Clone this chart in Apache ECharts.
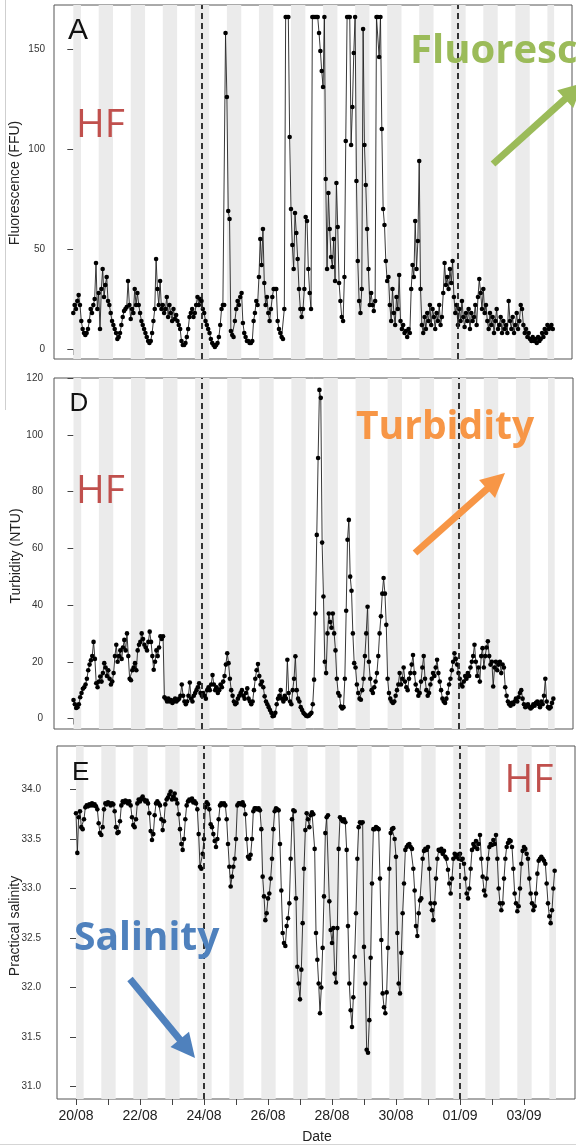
<!DOCTYPE html>
<html><head><meta charset="utf-8">
<script src="https://cdn.jsdelivr.net/npm/echarts@6/dist/echarts.min.js"></script>
<style>html,body{margin:0;padding:0;background:#fff}#c{width:576px;height:1146px}</style>
</head><body><div id="c"></div><script>
// Hourly samples starting 20/08 00:00
const stepHours = 1;
const fluorescence = [
18,22,20,24,27,22,14,10,8,7,8,10,14,20,18,22,25,43,20,28,10,30,40,26,
32,36,24,22,18,14,12,10,8,5,6,8,12,16,19,20,21,34,22,15,20,18,30,22,
28,22,18,14,12,10,8,6,4,3,4,8,14,20,45,30,22,34,20,22,18,20,26,16,
22,18,14,20,15,17,14,12,10,4,2,2,3,6,10,16,18,20,16,18,22,26,22,25,
24,20,18,14,12,10,8,5,3,2,1,2,3,6,12,20,22,22,158,126,69,65,9,7,
6,14,20,24,22,26,28,13,8,6,4,4,3,3,4,14,18,24,22,36,55,42,60,33,
22,26,18,14,20,26,30,30,30,14,10,8,6,5,20,166,166,166,106,70,52,40,68,58,
45,30,20,16,20,30,66,64,40,28,20,166,166,166,166,166,158,149,139,131,166,85,40,78,
60,46,41,55,34,83,61,33,24,16,14,36,104,166,166,166,102,121,148,166,84,44,24,18,
30,160,102,82,60,40,22,28,22,19,24,166,166,146,166,110,70,62,44,34,36,22,14,30,
18,12,26,20,37,14,10,12,8,9,6,10,8,30,42,36,64,40,54,94,30,12,8,16,
10,18,14,22,12,20,16,10,18,14,22,12,16,28,43,32,36,30,40,33,44,26,18,22,
12,20,14,24,16,11,18,14,20,10,18,14,16,22,12,26,35,28,20,30,18,22,14,10,
18,12,16,8,14,20,10,12,16,8,14,10,12,8,24,14,10,16,8,12,18,10,14,22,
20,12,8,10,6,8,5,4,6,4,5,3,6,4,5,8,6,10,8,12,10,11,12,10
];
const turbidity = [
6.5,5,3.7,4,5,7.5,9,10.5,11,12,14,17,19,20.5,22,27,21,12.4,11,13,14.8,13,16,19.5,
18,15,17,14,12,13,16,22,26,20,22,24,21,25,27.7,24,30,22,14,13.5,17,18,19.5,17,
24,26,27,30,28,26,25,24,27,30.6,27,22,17.2,20,24,22,25,29,28,29,7.5,7,6,7,
6,6.5,5.5,6,7,6,6.5,7,8,12,8,6,5,6,8,12.7,7,6,8,9,10,11,12.4,9,
8,9,8,7,10,11,10,12,15.3,12,10,11,9,10,12,11,13,15,19,23,19.5,14,10,8,
6,5,5.5,7,8,9,10,8,7,9,10.6,7,6,5,6,10,14,17,19.2,15,12,13,11,7.8,
6,5,4,3,2,0.8,1,2,5,7,8,10,7,6,8,7,20.7,9,6,5,10,14,21.9,10,
7,6,4,3,2,1.5,1,0.8,1,1.5,2,5,13.7,37,64.7,91.8,115.8,113,62,43,20,16,30,37,
34,32,37,30,24,14,9,8,4.2,3.5,4,14,38,63,70,50,45,30,19.5,18,12,9,7,6.6,
10,14,22,30,39.4,20,14,10,9,11,13,16,22,30,36,44,49.5,44,33,14,9,7,6,5.5,
6,8,10,12,16,12,14,18,13,11,10,14,16,19,22.4,16,12,10,8,9,13,18,22,14,
10,8,9,12,14,16,15,18,20.7,16,13,10,7,6,5.5,7,9,12,14,17,20,23,21,19,
16,14,12,11.3,13,15,14,16,15,18,20,22,26,20,15,18,13,22,24.8,18,22,25,27.2,22,
19,20,11.3,18,20,17,19,20,16,19,18,11,8,6,5,4.5,5.5,5,6,7,6,7.5,9,10,
7,5,4,4.5,5,4,3.5,4,5,4.5,5.5,6,5,4,6,5,8,14,6,4,3.5,4,5.5,7
];
const salinity = [
33.76,33.36,33.72,33.78,33.62,33.6,33.7,33.82,33.84,33.83,33.85,33.84,33.86,33.84,33.85,33.83,33.8,33.66,33.56,33.54,33.62,33.8,33.86,33.85,
33.87,33.86,33.84,33.86,33.85,33.78,33.62,33.56,33.57,33.68,33.84,33.88,33.87,33.89,33.88,33.86,33.88,33.84,33.72,33.64,33.62,33.7,33.86,33.9,
33.88,33.91,33.93,33.9,33.88,33.89,33.86,33.76,33.58,33.49,33.55,33.74,33.86,33.88,33.86,33.84,33.7,33.59,33.68,33.85,33.9,33.92,33.95,33.98,
33.9,33.93,33.96,33.9,33.86,33.75,33.6,33.45,33.39,33.5,33.7,33.84,33.88,33.9,33.89,33.91,33.87,33.88,33.86,33.8,33.55,33.22,33.2,33.35,
33.5,33.82,33.87,33.85,33.8,33.65,33.62,33.55,33.48,33.42,33.5,33.7,33.84,33.86,33.85,33.86,33.84,33.7,33.45,33.22,33.02,33.12,33.22,33.3,
33.5,33.84,33.86,33.86,33.85,33.87,33.84,33.75,33.5,33.32,33.3,33.34,33.5,33.78,33.81,33.81,33.8,33.81,33.79,33.6,33.12,32.92,32.68,32.75,
32.9,32.95,33.1,33.3,33.6,33.78,33.81,33.8,33.79,33.45,32.98,32.55,32.45,32.42,32.62,32.7,32.85,33.3,33.7,33.79,33.78,32.9,32.21,32.04,
31.88,32.18,32.65,33.2,33.59,33.76,33.7,33.62,33.74,33.77,33.75,33.4,32.55,32.28,32.04,31.74,32.0,32.4,32.92,33.56,33.72,33.74,32.87,32.58,
32.45,32.6,32.14,32.05,32.6,33.4,33.72,33.7,33.68,33.7,33.67,33.39,32.62,32.04,31.77,31.6,31.9,32.31,32.75,33.3,33.62,33.67,33.66,33.67,
32.41,32.04,31.37,31.34,31.67,32.3,33.05,33.6,33.6,33.62,33.61,33.6,33.1,32.48,31.94,31.8,31.74,31.95,32.4,33.2,33.56,33.6,33.61,33.5,
33.32,32.55,32.04,31.94,32.35,32.75,33.05,33.39,33.42,33.44,33.45,33.42,33.4,33.2,32.98,32.62,32.52,32.75,32.88,32.9,33.3,33.38,33.4,33.39,
33.42,33.2,32.85,32.78,32.68,32.85,33.1,33.3,33.39,33.38,33.4,33.35,33.38,33.32,33.3,33.19,33.05,32.95,33.1,33.3,33.35,33.32,33.34,33.3,
33.35,33.29,33.3,33.25,33.1,32.95,32.9,33.0,33.2,33.39,33.45,33.42,33.48,33.4,33.45,33.54,33.3,33.12,32.98,32.93,33.1,33.3,33.42,33.45,
33.44,33.49,33.45,33.54,33.3,33.0,32.85,32.78,32.85,33.1,33.3,33.42,33.46,33.49,33.48,33.42,33.2,32.95,32.85,32.77,32.82,33.0,33.25,33.38,
33.42,33.4,33.35,33.3,33.1,32.95,32.85,32.78,32.82,32.95,33.15,33.28,33.3,33.32,33.3,33.28,33.25,33.05,32.85,32.72,32.65,32.78,33.0,33.18
];
// Night periods (hours from 20/08 00:00)
const nights = [[0,5.75],[19,29.75],[43,53.75],[67,77.75],[91,101.75],[115,125.75],[139,149.75],[163,173.75],
  [187,197.75],[211,221.75],[235,245.75],[259,269.75],[283,293.75],[307,317.75],[331,341.75],[355,360]];
const markerHours = [96, 288];
const dayTickHours = [0,24,48,72,96,120,144,168,192,216,240,264,288,312,336];
const dateLabelHours = [0,48,96,144,192,240,288,336];
const dateLabels = ['20/08','22/08','24/08','26/08','28/08','30/08','01/09','03/09'];
const fluoTicks = [0,50,100,150];
const turbTicks = [0,20,40,60,80,100,120];
const salTicks = [31.0,31.5,32.0,32.5,33.0,33.5,34.0];

const chart = echarts.init(document.getElementById('c'), null, {renderer:'canvas'});
const toPairs = arr => arr.map((v,i)=>[i*stepHours, v]);
function xAx(gi, min, max, showLabels){
  return {type:'value', gridIndex:gi, min, max,
    axisLine:{show:false}, splitLine:{show:false},
    axisTick:{show:true, customValues:dayTickHours, length:6, lineStyle:{color:'#444', width:1}},
    axisLabel:{show:showLabels, customValues:dateLabelHours, margin:10, fontSize:14, color:'#222', fontFamily:'Liberation Sans',
      formatter:v=>dateLabels[dateLabelHours.indexOf(Math.round(v))]}};
}
function yAx(gi, min, max, ticks, margin, fmt){
  return {type:'value', gridIndex:gi, min, max,
    axisLine:{show:false}, splitLine:{show:false},
    axisTick:{show:true, customValues:ticks, length:6, lineStyle:{color:'#444', width:1}},
    axisLabel:{customValues:ticks, margin, fontSize:10, color:'#333', fontFamily:'Liberation Sans', formatter:fmt}};
}
function ser(i, arr){
  return {type:'line', xAxisIndex:i, yAxisIndex:i, data:toPairs(arr), symbol:'circle', symbolSize:4.6,
    showAllSymbol:true, itemStyle:{color:'#000'}, lineStyle:{color:'#222', width:0.9}, z:2, silent:true,
    markArea:{silent:true, itemStyle:{color:'#ebebeb'}, data:nights.map(n=>[{xAxis:n[0]},{xAxis:n[1]}])},
    markLine:{silent:true, symbol:['none','none'], label:{show:false}, animation:false,
      lineStyle:{color:'#222', type:[6,4], width:1.8}, data:markerHours.map(h=>({xAxis:h}))}};
}
function arrow(x1,y1,x2,y2,color,w,hl,hh){
  const dx=x2-x1, dy=y2-y1, L=Math.hypot(dx,dy), ux=dx/L, uy=dy/L;
  const bx=x2-ux*hl, by=y2-uy*hl;
  return [
    {type:'line', shape:{x1,y1,x2:bx+ux*2,y2:by+uy*2}, style:{stroke:color, lineWidth:w}, z:10},
    {type:'polygon', shape:{points:[[x2,y2],[bx-uy*hh,by+ux*hh],[bx+uy*hh,by-ux*hh]]}, style:{fill:color}, z:10}
  ];
}
function txt(text,x,y,font,fill){
  return {type:'text', x, y, z:10, style:{text, font, fill, textAlign:'left', textVerticalAlign:'middle'}};
}
function vtxt(text,x,y){
  return {type:'text', x, y, rotation:Math.PI/2, z:10, style:{text, font:'14px "Liberation Sans"', fill:'#222', textAlign:'center', textVerticalAlign:'middle'}};
}
const graphics = [].concat(
  [{type:'line', shape:{x1:5.5,y1:0,x2:5.5,y2:410}, style:{stroke:'#cfcfcf', lineWidth:1}},
   {type:'line', shape:{x1:0,y1:1144.5,x2:576,y2:1144.5}, style:{stroke:'#d5d5d5', lineWidth:1}}],
  [txt('A',68,31,'30px "Liberation Sans"','#111'),
   txt('D',69.5,404,'26px "Liberation Sans"','#111'),
   txt('E',72,772.5,'26px "Liberation Sans"','#111'),
   txt('HF',76,126,'39px "Open Sans"','#c0504d'),
   txt('HF',76,492,'39px "Open Sans"','#c0504d'),
   txt('HF',504.5,781,'39px "Open Sans"','#c0504d'),
   txt('Fluorescence',410,52,'bold 40px "Open Sans"','#9bbb59'),
   txt('Turbidity',356,428,'bold 39px "Open Sans"','#f79646'),
   txt('Salinity',74,938.5,'bold 39px "Open Sans"','#4f81bd'),
   vtxt('Fluorescence (FFU)',15,183),
   vtxt('Turbidity (NTU)',16,556),
   vtxt('Practical salinity',15,926),
   {type:'text', x:317, y:1137, z:10, style:{text:'Date', font:'14px "Liberation Sans"', fill:'#222', textAlign:'center', textVerticalAlign:'middle'}}],
  arrow(493,164,583,83,'#9bbb59',7,24,12),
  arrow(415,553,505,473,'#f79646',7,24,12),
  arrow(130,979,195,1058,'#4f81bd',7,24,12)
);
chart.setOption({
  animation:false,
  backgroundColor:'#fff',
  grid:[
    {left:54, top:5, width:518, height:354, show:true, borderColor:'#555', borderWidth:1},
    {left:54, top:378, width:519, height:351, show:true, borderColor:'#555', borderWidth:1},
    {left:57, top:746, width:518, height:353, show:true, borderColor:'#555', borderWidth:1}
  ],
  xAxis:[xAx(0,-14.45,373.4,false), xAx(1,-14.6,373.7,false), xAx(2,-14.25,374.25,true)],
  yAxis:[yAx(0,-5,172,fluoTicks,9), yAx(1,-3.7,120,turbTicks,11), yAx(2,30.873,34.44,salTicks,16,v=>v.toFixed(1))],
  series:[ser(0,fluorescence), ser(1,turbidity), ser(2,salinity)],
  graphic:graphics
});
</script></body></html>
